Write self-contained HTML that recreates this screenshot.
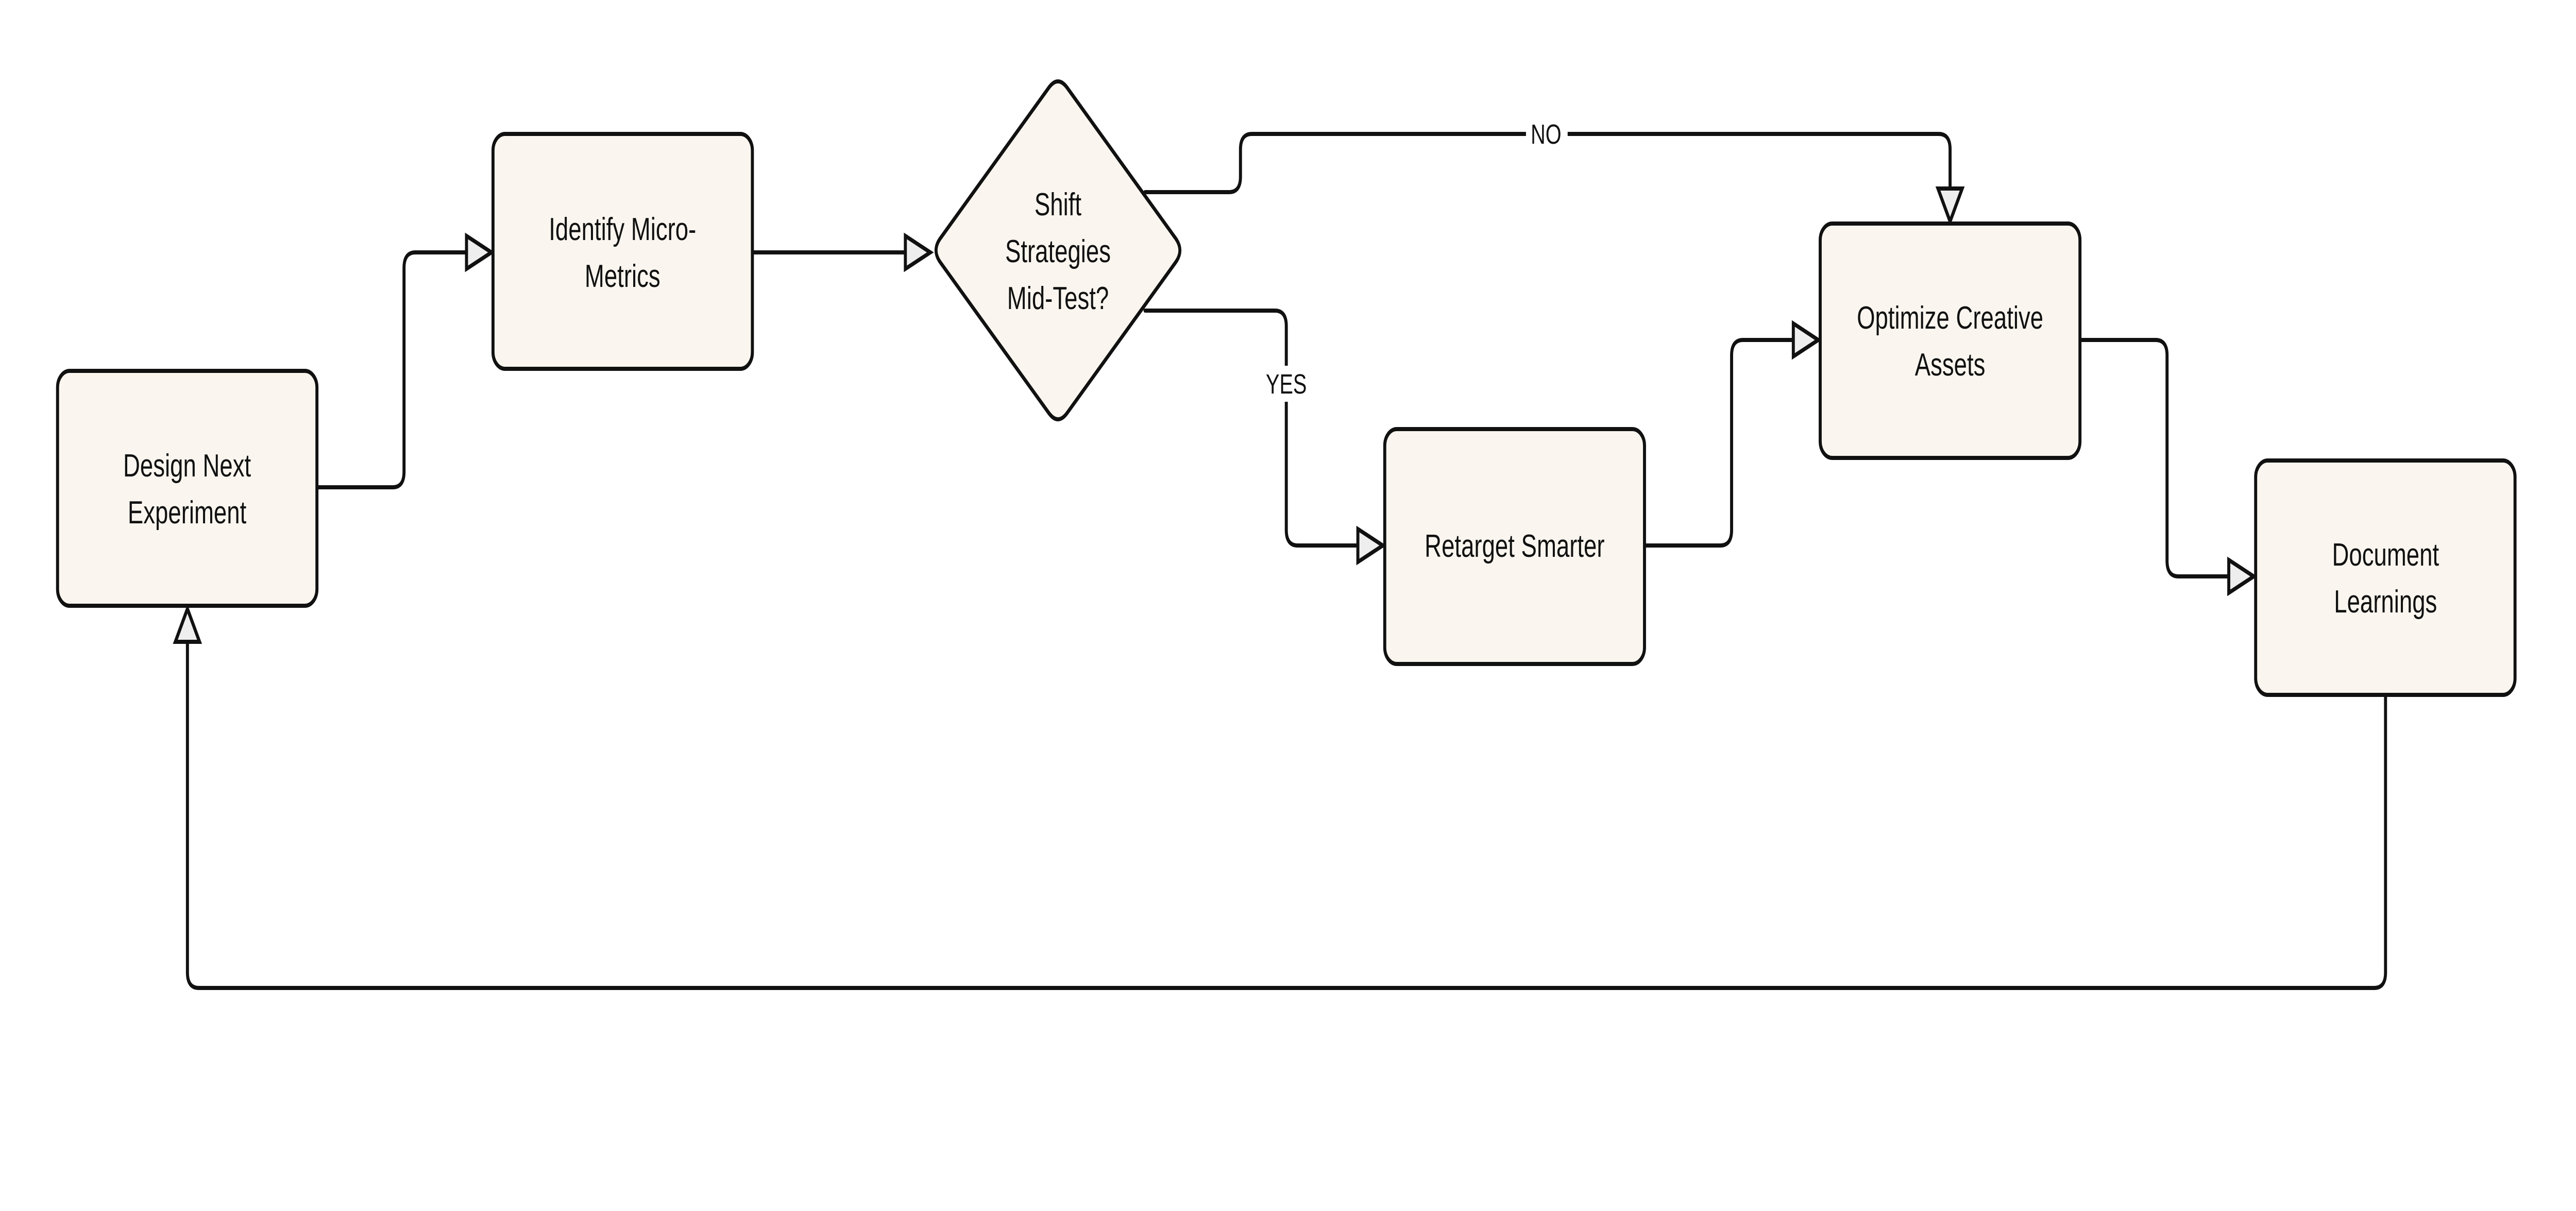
<!DOCTYPE html>
<html><head><meta charset="utf-8"><style>
html,body{margin:0;padding:0;background:#fff;width:100%;height:100%;overflow:hidden;}
svg{display:block;width:100vw;height:100vh;}
text{font-family:"Liberation Sans",sans-serif;fill:#111;}
</style></head><body>
<svg viewBox="0 0 6803 2351" preserveAspectRatio="none" xmlns="http://www.w3.org/2000/svg">
<rect width="6803" height="2351" fill="#fff"/>
<g fill="none" stroke="#111" stroke-width="8" stroke-linejoin="round" stroke-linecap="round">
<path d="M837 946 H1037 Q1067 946 1067 916 V520 Q1067 490 1097 490 H1236"/>
<path d="M1987 490 H2395"/>
<path d="M3024 373 H3246 Q3276 373 3276 343 V290 Q3276 260 3306 260 H5120 Q5150 260 5150 290 V370"/>
<path d="M3024 603 H3367 Q3397 603 3397 633 V1029 Q3397 1059 3427 1059 H3590"/>
<path d="M4343 1059 H4543 Q4573 1059 4573 1029 V690 Q4573 660 4603 660 H4740"/>
<path d="M5493 660 H5693 Q5723 660 5723 690 V1089 Q5723 1119 5753 1119 H5890"/>
<path d="M6300 1349 V1888 Q6300 1918 6270 1918 H525 Q495 1918 495 1888 V1242"/>
</g>
<g fill="#eeeeee" stroke="#111" stroke-width="8" stroke-linejoin="miter">
<polygon points="1232,458 1298,490 1232,522"/>
<polygon points="2391,458 2457,490 2391,522"/>
<polygon points="5118,366 5150,430 5182,366"/>
<polygon points="3586,1027 3652,1059 3586,1091"/>
<polygon points="4736,628 4802,660 4736,692"/>
<polygon points="5886,1087 5952,1119 5886,1151"/>
<polygon points="463,1246 495,1182 527,1246"/>
</g>
<g fill="#faf6ef" stroke="#111" stroke-width="8">
<rect x="152" y="720" width="685" height="456" rx="32"/>
<rect x="1302" y="260" width="685" height="456" rx="32"/>
<rect x="3657" y="833" width="686" height="456" rx="32"/>
<rect x="4807" y="434" width="686" height="455" rx="32"/>
<rect x="5957" y="894" width="685" height="455" rx="32"/>
<path d="M2770 170 Q2794 146 2818 170 L3104 462 Q3128 486 3104 510 L2818 802 Q2794 826 2770 802 L2484 510 Q2460 486 2484 462 Z" stroke-linejoin="round"/>
</g>
<rect x="4030" y="230" width="110" height="60" fill="#fff"/>
<rect x="3340" y="710" width="115" height="70" fill="#fff"/>
<g font-size="62" text-anchor="middle">
<text x="494" y="925">Design Next</text>
<text x="494" y="1016">Experiment</text>
<text x="1644" y="466">Identify Micro-</text>
<text x="1644" y="557">Metrics</text>
<text x="2794" y="418">Shift</text>
<text x="2794" y="509">Strategies</text>
<text x="2794" y="600">Mid-Test?</text>
<text x="4000" y="1081">Retarget Smarter</text>
<text x="5150" y="638">Optimize Creative</text>
<text x="5150" y="729">Assets</text>
<text x="6300" y="1098">Document</text>
<text x="6300" y="1189">Learnings</text>
</g>
<g font-size="54" text-anchor="middle">
<text x="4083" y="279">NO</text>
<text x="3397" y="764">YES</text>
</g>
</svg>
</body></html>
